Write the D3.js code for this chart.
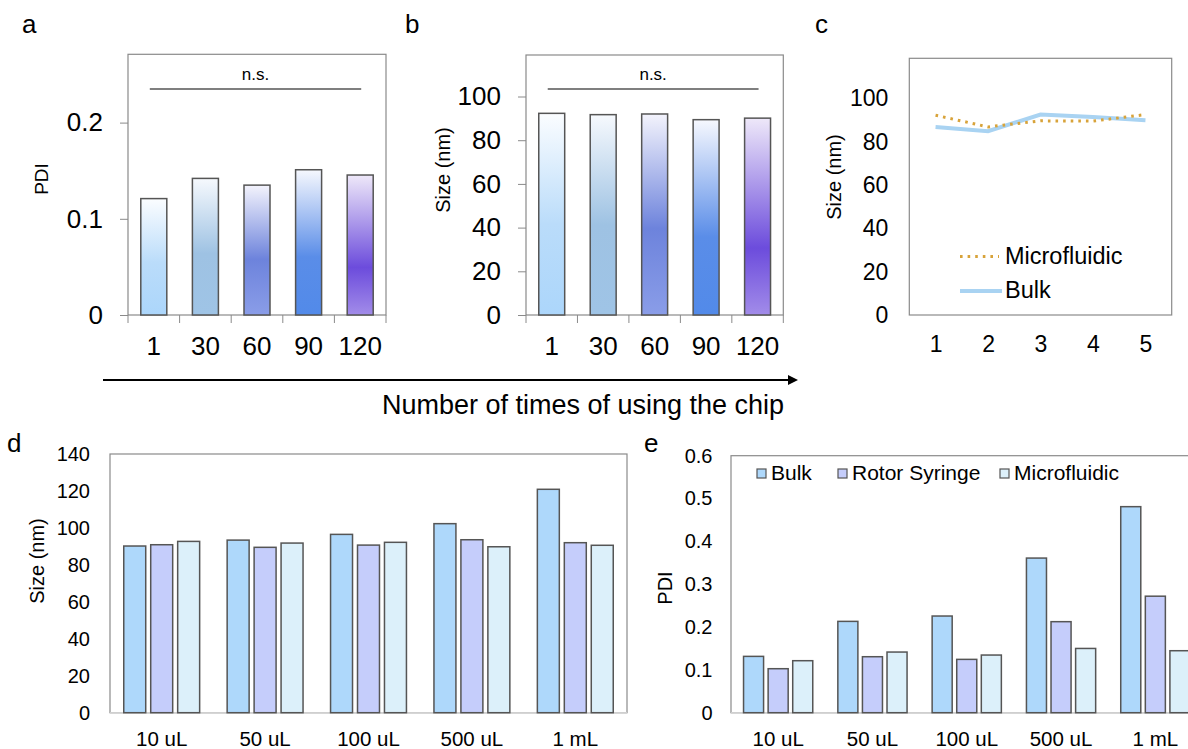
<!DOCTYPE html>
<html>
<head>
<meta charset="utf-8">
<script src="https://cdn.jsdelivr.net/npm/d3@7"></script>
<style>
body { margin: 0; background: #fff; }
svg { font-family: "Liberation Sans", Arial, Helvetica, sans-serif; }
</style>
</head>
<body>
<script>
// ---- data ----
// a / b : number of times the chip was used
var useCats = ["1", "30", "60", "90", "120"];
var pdiByUse = [0.121, 0.142, 0.135, 0.151, 0.1455];
var sizeByUse = [92.3, 91.7, 92.0, 89.4, 90.1];
var pdiTicks = [0, 0.1, 0.2];
var sizeTicks = [0, 20, 40, 60, 80, 100];

// c : repeated runs
var runCats = ["1", "2", "3", "4", "5"];
var sizeRunMicro = [92.3, 86.9, 89.7, 89.6, 92.6];
var sizeRunBulk = [86.9, 84.9, 92.6, 91.5, 90.0];

// d / e : batch volume
var volCats = ["10 uL", "50 uL", "100 uL", "500 uL", "1 mL"];
var methods = ["Bulk", "Rotor Syringe", "Microfluidic"];
var sizeVolBulk = [90.2, 93.4, 96.5, 102.3, 120.9];
var sizeVolRotor = [90.9, 89.5, 90.7, 93.6, 92.0];
var sizeVolMicro = [92.7, 91.8, 92.2, 89.8, 90.6];
var pdiVolBulk = [0.1315, 0.2132, 0.2257, 0.361, 0.481];
var pdiVolRotor = [0.1027, 0.1307, 0.1245, 0.2125, 0.272];
var pdiVolMicro = [0.1214, 0.1416, 0.1346, 0.150, 0.1447];
var sizeTicksD = [0, 20, 40, 60, 80, 100, 120, 140];
var pdiTicksE = [0, 0.1, 0.2, 0.3, 0.4, 0.5, 0.6];

var methodColors = ["#aed8fb", "#c5cdfb", "#dcf0fa"];
var barStroke = "#555";
var frameColor = "#8a8a8a";

var svg = d3.select("body")
	.append("svg")
	.attr("width", 1188)
	.attr("height", 749);

var defs = svg.append("defs");

// vertical gradients of the bars in a and b
var gradStops = [
	[["0%", "#fbfdff"], ["55%", "#badcfa"], ["100%", "#acd6fb"]],
	[["0%", "#f6f9fd"], ["55%", "#9ec2e3"], ["100%", "#9fc4e6"]],
	[["0%", "#f3f3fc"], ["57%", "#6d83dc"], ["100%", "#8a9de8"]],
	[["0%", "#f6f8fe"], ["60%", "#5a8de8"], ["100%", "#528ae9"]],
	[["0%", "#eee8f9"], ["66%", "#6c4cdc"], ["100%", "#a28ce9"]]
];
gradStops.forEach(function(st, i) {
	var g = defs.append("linearGradient")
		.attr("id", "grad" + i)
		.attr("x1", 0).attr("y1", 0).attr("x2", 0).attr("y2", 1);
	st.forEach(function(s) {
		g.append("stop").attr("offset", s[0]).attr("stop-color", s[1]);
	});
});

// arrow head
defs.append("marker")
	.attr("id", "arrow")
	.attr("viewBox", "0 0 10 10")
	.attr("refX", 2).attr("refY", 5)
	.attr("markerWidth", 5).attr("markerHeight", 5)
	.attr("orient", "auto")
	.append("path")
	.attr("d", "M0,0L10,5L0,10Z")
	.attr("fill", "#000");

function styleAxis(ax, size) {
	ax.selectAll("text").attr("font-size", size).attr("fill", "#000");
	ax.selectAll("line").attr("stroke", frameColor);
	ax.select(".domain").remove();
	ax.attr("font-family", null);
}

function frame(x0, y0, x1, y1) {
	svg.append("rect")
		.attr("x", x0).attr("y", y0)
		.attr("width", x1 - x0).attr("height", y1 - y0)
		.attr("fill", "none")
		.attr("stroke", frameColor)
		.attr("stroke-width", 1.2);
}

function yTitle(text, cx, cy, size) {
	svg.append("text")
		.attr("transform", "translate(" + cx + "," + cy + ") rotate(-90)")
		.attr("text-anchor", "middle")
		.attr("dy", "0.35em")
		.attr("font-size", size)
		.text(text);
}

function letter(t, x, y) {
	svg.append("text").attr("x", x).attr("y", y).attr("font-size", 26).text(t);
}

// panels a and b : single bars with gradients
function gradBars(box, vals, ymax, ticks, fmt) {
	var x = d3.scaleBand().domain(useCats).range([box.x0, box.x1])
		.paddingInner(0.496).paddingOuter(0.248);
	var y = d3.scaleLinear().domain([0, ymax]).range([box.y1, box.y0]);

	frame(box.x0, box.y0, box.x1, box.y1);

	// y axis, ticks outside
	var ay = svg.append("g")
		.attr("transform", "translate(" + box.x0 + ",0)")
		.call(d3.axisLeft(y).tickValues(ticks).tickFormat(fmt).tickSize(8).tickPadding(17));
	styleAxis(ay, 26);

	// x axis labels
	var ax = svg.append("g")
		.attr("transform", "translate(0," + box.y1 + ")")
		.call(d3.axisBottom(x).tickSize(0).tickPadding(22));
	styleAxis(ax, 26);

	// tick marks on the band edges
	svg.append("g").selectAll("line")
		.data(d3.range(useCats.length + 1))
		.enter().append("line")
		.attr("x1", function(i) { return x.range()[0] + i * x.step(); })
		.attr("x2", function(i) { return x.range()[0] + i * x.step(); })
		.attr("y1", box.y1).attr("y2", box.y1 + 8)
		.attr("stroke", frameColor);

	svg.append("g").selectAll("rect")
		.data(vals)
		.enter().append("rect")
		.attr("x", function(d, i) { return x(useCats[i]); })
		.attr("y", function(d) { return y(d); })
		.attr("width", x.bandwidth())
		.attr("height", function(d) { return y(0) - y(d); })
		.attr("fill", function(d, i) { return "url(#grad" + i + ")"; })
		.attr("stroke", barStroke)
		.attr("stroke-width", 1.5);

	// n.s. bracket
	var c0 = x(useCats[0]) + x.bandwidth() / 2 - 4;
	var c1 = x(useCats[useCats.length - 1]) + x.bandwidth() / 2 + 1;
	svg.append("line")
		.attr("x1", c0).attr("x2", c1)
		.attr("y1", 89).attr("y2", 89)
		.attr("stroke", "#555").attr("stroke-width", 1.3);
	svg.append("text")
		.attr("x", (c0 + c1) / 2).attr("y", 80)
		.attr("text-anchor", "middle")
		.attr("font-size", 17)
		.text("n.s.");
}

var fmtNum = function(d) { return d3.format("")(+d.toFixed(2)); };

gradBars({x0: 128, y0: 54.3, x1: 386, y1: 315}, pdiByUse, 0.271, pdiTicks, fmtNum);
yTitle("PDI", 41, 179, 19);
letter("a", 22, 33);

gradBars({x0: 526, y0: 55, x1: 783.3, y1: 315}, sizeByUse, 119, sizeTicks, fmtNum);
yTitle("Size (nm)", 443, 170, 20);
letter("b", 405, 33);

// panel c : lines
(function() {
	var box = {x0: 909.3, y0: 58.3, x1: 1171.7, y1: 315};
	var x = d3.scalePoint().domain(runCats).range([box.x0, box.x1]).padding(0.5);
	var y = d3.scaleLinear().domain([0, 118.6]).range([box.y1, box.y0]);

	frame(box.x0, box.y0, box.x1, box.y1);

	var ay = svg.append("g")
		.attr("transform", "translate(" + box.x0 + ",0)")
		.call(d3.axisLeft(y).tickValues(sizeTicks).tickSize(0).tickPadding(21));
	styleAxis(ay, 23);

	var ax = svg.append("g")
		.attr("transform", "translate(0," + box.y1 + ")")
		.call(d3.axisBottom(x).tickSize(0).tickPadding(21));
	styleAxis(ax, 23);

	var line = d3.line()
		.x(function(d, i) { return x(runCats[i]); })
		.y(function(d) { return y(d); });

	svg.append("path").datum(sizeRunBulk)
		.attr("d", line)
		.attr("fill", "none")
		.attr("stroke", "#a9d3f2")
		.attr("stroke-width", 4);

	svg.append("path").datum(sizeRunMicro)
		.attr("d", line)
		.attr("fill", "none")
		.attr("stroke", "#d8a33a")
		.attr("stroke-width", 3)
		.attr("stroke-dasharray", "2.6,5");

	// legend
	svg.append("line").attr("x1", 960).attr("x2", 999).attr("y1", 256.5).attr("y2", 256.5)
		.attr("stroke", "#d8a33a").attr("stroke-width", 3).attr("stroke-dasharray", "2.6,5");
	svg.append("text").attr("x", 1005).attr("y", 264).attr("font-size", 23.5).text("Microfluidic");
	svg.append("line").attr("x1", 960).attr("x2", 1002).attr("y1", 291).attr("y2", 291)
		.attr("stroke", "#a9d3f2").attr("stroke-width", 4);
	svg.append("text").attr("x", 1005).attr("y", 298).attr("font-size", 23.5).text("Bulk");
})();
yTitle("Size (nm)", 834, 177, 20);
letter("c", 815, 33);

// arrow and common x title
svg.append("line")
	.attr("x1", 103).attr("x2", 790)
	.attr("y1", 380).attr("y2", 380)
	.attr("stroke", "#000").attr("stroke-width", 2)
	.attr("marker-end", "url(#arrow)");
svg.append("text")
	.attr("x", 583).attr("y", 414)
	.attr("text-anchor", "middle")
	.attr("font-size", 27)
	.text("Number of times of using the chip");

// panels d and e : grouped bars
function groupBars(box, series, ymax, ticks, fmt) {
	var band = box.band;
	var x0 = d3.scaleBand().domain(volCats).range([box.x0, box.x0 + band * volCats.length]);
	var x1 = d3.scaleBand().domain(methods).range([band * 0.133, band * 0.867]).paddingInner(0.185);
	var y = d3.scaleLinear().domain([0, ymax]).range([box.y1, box.y0]);

	frame(box.x0, box.y0, box.x0 + band * volCats.length, box.y1);
	svg.append("line")
		.attr("x1", box.x0).attr("x2", box.x0 + band * volCats.length)
		.attr("y1", box.y1).attr("y2", box.y1)
		.attr("stroke", "#cfcfcf").attr("stroke-width", 1.5);

	var ay = svg.append("g")
		.attr("transform", "translate(" + box.x0 + ",0)")
		.call(d3.axisLeft(y).tickValues(ticks).tickFormat(fmt).tickSize(0).tickPadding(box.pad));
	styleAxis(ay, 20);

	var ax = svg.append("g")
		.attr("transform", "translate(0," + box.y1 + ")")
		.call(d3.axisBottom(x0).tickSize(0).tickPadding(19));
	styleAxis(ax, 20.5);

	var grp = svg.append("g").selectAll("g")
		.data(volCats)
		.enter().append("g")
		.attr("transform", function(c) { return "translate(" + x0(c) + ",0)"; });

	grp.selectAll("rect")
		.data(function(c, ci) { return series.map(function(s, si) { return {m: methods[si], v: s[ci], si: si}; }); })
		.enter().append("rect")
		.attr("x", function(d) { return x1(d.m); })
		.attr("y", function(d) { return y(d.v); })
		.attr("width", x1.bandwidth())
		.attr("height", function(d) { return y(0) - y(d.v); })
		.attr("fill", function(d) { return methodColors[d.si]; })
		.attr("stroke", barStroke)
		.attr("stroke-width", 1.5);
}

groupBars({x0: 110, y0: 454, y1: 712.7, band: 103.4, pad: 20},
	[sizeVolBulk, sizeVolRotor, sizeVolMicro], 140, sizeTicksD, fmtNum);
yTitle("Size (nm)", 37, 561, 20);
letter("d", 7, 452);

groupBars({x0: 731, y0: 455.7, y1: 712.7, band: 94.3, pad: 18.5},
	[pdiVolBulk, pdiVolRotor, pdiVolMicro], 0.6, pdiTicksE, fmtNum);
yTitle("PDI", 665, 588, 20);
letter("e", 644, 452);

// legend of e
var legX = [757, 838, 1000];
var leg = svg.append("g").selectAll("g")
	.data(methods)
	.enter().append("g")
	.attr("transform", function(m, i) { return "translate(" + legX[i] + ",469)"; });
leg.append("rect")
	.attr("width", 9).attr("height", 9)
	.attr("fill", function(m, i) { return methodColors[i]; })
	.attr("stroke", barStroke).attr("stroke-width", 1.2);
leg.append("text")
	.attr("x", 14).attr("y", 11)
	.attr("font-size", 21)
	.text(function(m) { return m; });
</script>
</body>
</html>
